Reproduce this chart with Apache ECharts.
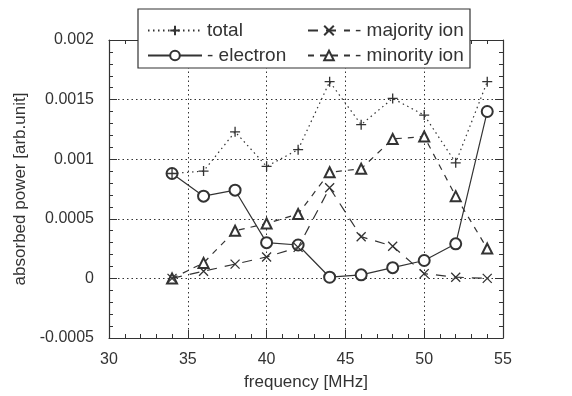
<!DOCTYPE html>
<html><head><meta charset="utf-8">
<script src="https://cdn.jsdelivr.net/npm/echarts@6/dist/echarts.min.js"></script>
<style>html,body{margin:0;padding:0;background:#fff}#c{width:572px;height:396px}</style>
</head><body><div id="c"></div>
<script>
var freq = [34, 36, 38, 40, 42, 44, 46, 48, 50, 52, 54];
var total = [0.00088, 0.00090, 0.00123, 0.00094, 0.00108, 0.00165, 0.00129, 0.00151, 0.00137, 0.00097, 0.00165];
var electron = [0.00088, 0.00069, 0.00074, 0.00030, 0.00028, 0.00001, 0.00003, 0.00009, 0.00015, 0.00029, 0.00140];
var majority = [0.00000, 0.00006, 0.00012, 0.00018, 0.00026, 0.00076, 0.00035, 0.00027, 0.00004, 0.00001, 0.00000];
var minority = [0.00000, 0.00013, 0.00040, 0.00046, 0.00054, 0.00089, 0.00092, 0.00117, 0.00119, 0.00069, 0.00025];
var names = ['total', '- electron', '- majority ion', '- minority ion'];

function pairs(v){ return freq.map(function(f,i){ return [f, v[i]]; }); }
var C = '#333';
var FONT = 'Liberation Sans';
var plusSym = 'path://M5,0 L5,10 M0,5 L10,5';
var crossSym = 'path://M0,0 L10,10 M10,0 L0,10';
function ser(name, data, sym, size, ltype, z){
  return {
    name: name, type: 'line', data: pairs(data), symbol: sym, symbolSize: size,
    lineStyle: {color: C, width: 1.2, type: ltype},
    itemStyle: {color: C, borderColor: C, borderWidth: 1.3},
    emphasis: {disabled: true}, animation: false, z: z
  };
}
var fmt = function(v){ return String(parseFloat(Number(v).toPrecision(6))); };
var chart = echarts.init(document.getElementById('c'));
var axisCommon = {
  axisLine: {onZero: false, lineStyle: {color: C, width: 1.2}},
  axisTick: {inside: true, length: 8, lineStyle: {color: C}},
  minorTick: {show: true, splitNumber: 5, length: 4, lineStyle: {color: C}}
};
chart.setOption({
  animation: false,
  textStyle: {fontFamily: FONT},
  grid: {left: 109, right: 69, top: 40, bottom: 55},
  xAxis: [
    Object.assign({type: 'value', min: 30, max: 55, interval: 5, position: 'bottom',
      name: 'frequency [MHz]', nameLocation: 'middle', nameGap: 36,
      nameTextStyle: {color: C, fontSize: 17, fontFamily: FONT},
      axisLabel: {color: C, fontSize: 16, margin: 14, fontFamily: FONT},
      splitLine: {show: true, lineStyle: {color: C, type: [1.5, 3], width: 1}}}, axisCommon),
    Object.assign({type: 'value', min: 30, max: 55, interval: 5, position: 'top',
      axisLabel: {show: false}, splitLine: {show: false}}, axisCommon)
  ],
  yAxis: [
    Object.assign({type: 'value', min: -0.0005, max: 0.002, interval: 0.0005, position: 'left',
      name: 'absorbed power [arb.unit]', nameLocation: 'middle', nameGap: 78,
      nameTextStyle: {color: C, fontSize: 17, fontFamily: FONT},
      axisLabel: {color: C, fontSize: 16, margin: 15, formatter: fmt, fontFamily: FONT},
      splitLine: {show: true, lineStyle: {color: C, type: [1.5, 3], width: 1}}}, axisCommon),
    Object.assign({type: 'value', min: -0.0005, max: 0.002, interval: 0.0005, position: 'right',
      axisLabel: {show: false}, splitLine: {show: false}}, axisCommon)
  ],
  graphic: [{type: 'rect', shape: {x: 138, y: 9, width: 332, height: 59},
    style: {fill: '#fff', stroke: C, lineWidth: 1.2}, z: 50}],
  legend: [
    {data: [names[0], names[1]], orient: 'vertical', left: 142, top: 16, itemWidth: 54, itemHeight: 12, itemGap: 6,
     textStyle: {color: C, fontSize: 19, fontFamily: FONT}, z: 60, selectedMode: false},
    {data: [names[2], names[3]], orient: 'vertical', left: 302, top: 16, itemWidth: 42, itemHeight: 12, itemGap: 6,
     textStyle: {color: C, fontSize: 19, fontFamily: FONT}, z: 60, selectedMode: false}
  ],
  series: [
    ser(names[0], total, plusSym, 10, [1.5, 3.5], 8),
    ser(names[1], electron, 'emptyCircle', 11, 'solid', 5),
    ser(names[2], majority, crossSym, 9, [10, 8], 7),
    ser(names[3], minority, 'emptyTriangle', 10, [6, 6], 6)
  ]
});
</script></body></html>
